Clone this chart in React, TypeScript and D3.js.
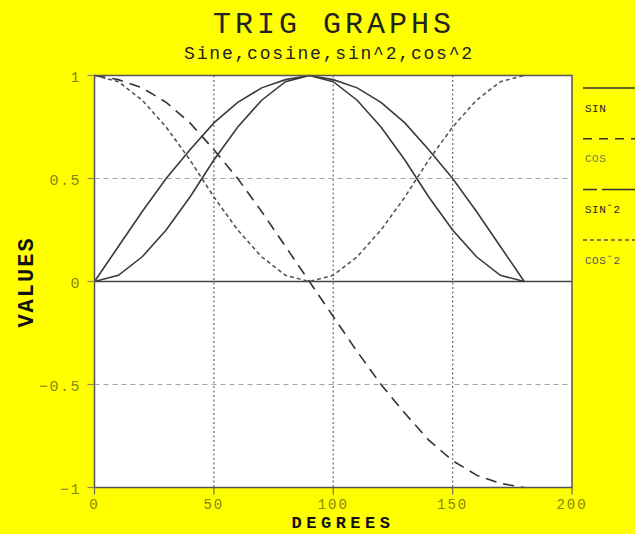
import React from "react";
import * as d3 from "d3";

const degrees = [0, 10, 20, 30, 40, 50, 60, 70, 80, 90, 100, 110, 120, 130, 140, 150, 160, 170, 180];
const sinValues = [0, 0.17, 0.34, 0.5, 0.64, 0.77, 0.87, 0.94, 0.98, 1, 0.98, 0.94, 0.87, 0.77, 0.64, 0.5, 0.34, 0.17, 0];
const cosValues = [1, 0.98, 0.94, 0.87, 0.77, 0.64, 0.5, 0.34, 0.17, 0, -0.17, -0.34, -0.5, -0.64, -0.77, -0.87, -0.94, -0.98, -1];
const sin2Values = [0, 0.03, 0.12, 0.25, 0.41, 0.59, 0.75, 0.88, 0.97, 1, 0.97, 0.88, 0.75, 0.59, 0.41, 0.25, 0.12, 0.03, 0];
const cos2Values = [1, 0.97, 0.88, 0.75, 0.59, 0.41, 0.25, 0.12, 0.03, 0, 0.03, 0.12, 0.25, 0.41, 0.59, 0.75, 0.88, 0.97, 1];
const xTicks = [0, 50, 100, 150, 200];
const yTicks = [1, 0.5, 0, -0.5, -1];
const yTickLabels = ["1", "0.5", "0", "\u22120.5", "\u22121"];
const legendLabels = ["SIN", "COS", "SIN\u02C62", "COS\u02C62"];

const W = 635, H = 534;
const mono = "'Liberation Mono', 'DejaVu Sans Mono', monospace";
const olive = "#8a8410";

export default function App() {
  const x = d3.scaleLinear().domain([0, 200]).range([94.5, 572]);
  const y = d3.scaleLinear().domain([-1, 1]).range([487.5, 75.5]);
  const mk = (vals: number[]) =>
    d3.line<number>().x((_, i) => x(degrees[i])).y((v) => y(v))(vals) || "";

  const series = [
    { vals: sinValues, stroke: "#3a3a3a", dash: "", w: 1.6 },
    { vals: cosValues, stroke: "#333", dash: "11,7", w: 1.6 },
    { vals: sin2Values, stroke: "#3a3a3a", dash: "", w: 1.6 },
    { vals: cos2Values, stroke: "#555", dash: "4,3", w: 1.6 },
  ];
  const legendDash = ["", "9,7", "14,5,30,0", "4,3"];
  const legendColor = ["#222", "#7a7a50", "#222", "#555"];

  return (
    <svg width={W} height={H} style={{ position: "absolute", left: 0, top: 0, display: "block" }}>
      <rect x={0} y={0} width={W} height={H} fill="#ffff00" />
      <rect x={x(0)} y={y(1)} width={x(200) - x(0)} height={y(-1) - y(1)} fill="#ffffff" />

      {/* grid */}
      {[0.5, -0.5].map((v) => (
        <line key={"h" + v} x1={x(0)} x2={x(200)} y1={y(v)} y2={y(v)} stroke="#a5a595" strokeWidth={1.2} strokeDasharray="5,4" />
      ))}
      {[50, 100, 150].map((v) => (
        <line key={"v" + v} x1={x(v)} x2={x(v)} y1={y(1)} y2={y(-1)} stroke="#77776a" strokeWidth={1.3} strokeDasharray="2,2.5" />
      ))}
      <line x1={x(0)} x2={x(200)} y1={y(0)} y2={y(0)} stroke="#444" strokeWidth={1.5} />

      {/* series */}
      {series.map((s, i) => (
        <path key={i} d={mk(s.vals)} fill="none" stroke={s.stroke} strokeWidth={s.w} strokeDasharray={s.dash} />
      ))}

      {/* frame */}
      <rect x={x(0)} y={y(1)} width={x(200) - x(0)} height={y(-1) - y(1)} fill="none" stroke="#555" strokeWidth={1.5} />

      {/* ticks */}
      {yTicks.map((v, i) => (
        <g key={"yt" + i}>
          <line x1={x(0) - 7} x2={x(0)} y1={y(v)} y2={y(v)} stroke="#8a8a70" strokeWidth={1.2} />
          <text x={81} y={y(v) + 6} textAnchor="end" fontFamily={mono} fontSize={15} fill={olive} letterSpacing={1.5}>
            {yTickLabels[i]}
          </text>
        </g>
      ))}
      {xTicks.map((v) => (
        <g key={"xt" + v}>
          <line x1={x(v)} x2={x(v)} y1={y(-1)} y2={y(-1) + 7} stroke="#6a6a50" strokeWidth={1.2} />
          <text x={x(v)} y={509} textAnchor="middle" fontFamily={mono} fontSize={14} fill={olive} letterSpacing={2}>
            {v}
          </text>
        </g>
      ))}

      {/* titles */}
      <text x={334} y={33} textAnchor="middle" fontFamily={mono} fontSize={30} fill="#222" letterSpacing={4}>
        TRIG GRAPHS
      </text>
      <text x={329} y={59} textAnchor="middle" fontFamily={mono} fontSize={18} fill="#222" letterSpacing={1.8}>
        Sine,cosine,sin^2,cos^2
      </text>
      <text x={343} y={528} textAnchor="middle" fontFamily={mono} fontWeight="bold" fontSize={17} fill="#111" letterSpacing={4.5}>
        DEGREES
      </text>
      <text transform={`translate(33,282) rotate(-90)`} textAnchor="middle" fontFamily={mono} fontWeight="bold" fontSize={22} fill="#111" letterSpacing={2}>
        VALUES
      </text>

      {/* legend */}
      {legendLabels.map((lab, i) => (
        <g key={"lg" + i}>
          <line x1={583} x2={640} y1={88 + i * 50.7} y2={88 + i * 50.7} stroke={i === 3 ? "#555" : "#333"} strokeWidth={1.5} strokeDasharray={legendDash[i]} />
          <text x={585} y={111.5 + i * 50.7} fontFamily={mono} fontSize={11} fill={legendColor[i]} letterSpacing={0.5}>
            {lab}
          </text>
        </g>
      ))}
    </svg>
  );
}
